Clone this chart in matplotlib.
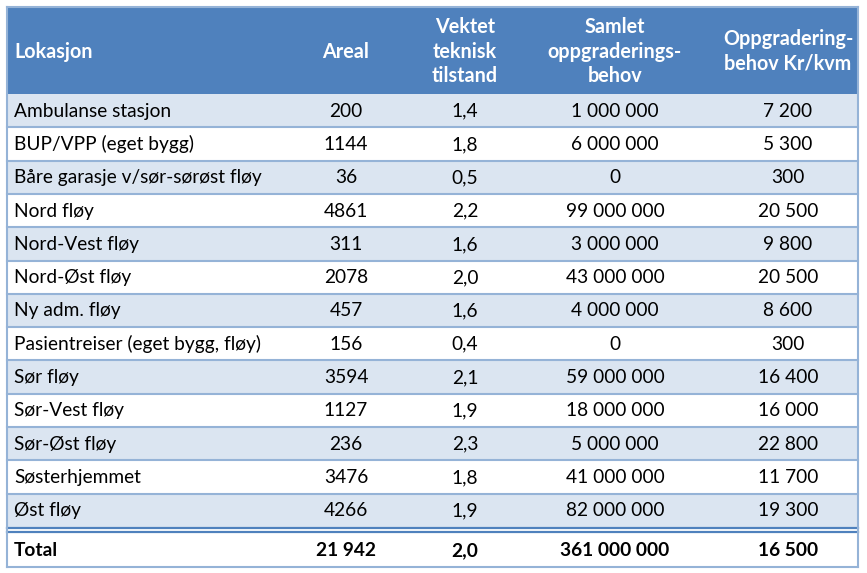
import matplotlib
matplotlib.use("Agg")
import matplotlib.pyplot as plt
from matplotlib.patches import Rectangle

headers = ["Lokasjon", "Areal", "Vektet\nteknisk\ntilstand", "Samlet\noppgraderings-\nbehov", "Oppgradering-\nbehov Kr/kvm"]
locations = ["Ambulanse stasjon", "BUP/VPP (eget bygg)", "Båre garasje v/sør-sørøst fløy", "Nord fløy",
             "Nord-Vest fløy", "Nord-Øst fløy", "Ny adm. fløy", "Pasientreiser (eget bygg, fløy)",
             "Sør fløy", "Sør-Vest fløy", "Sør-Øst fløy", "Søsterhjemmet", "Øst fløy"]
areal = ["200", "1144", "36", "4861", "311", "2078", "457", "156", "3594", "1127", "236", "3476", "4266"]
tilstand = ["1,4", "1,8", "0,5", "2,2", "1,6", "2,0", "1,6", "0,4", "2,1", "1,9", "2,3", "1,8", "1,9"]
behov = ["1 000 000", "6 000 000", "0", "99 000 000", "3 000 000", "43 000 000", "4 000 000", "0",
         "59 000 000", "18 000 000", "5 000 000", "41 000 000", "82 000 000"]
per_kvm = ["7 200", "5 300", "300", "20 500", "9 800", "20 500", "8 600", "300", "16 400", "16 000",
           "22 800", "11 700", "19 300"]
total = ["Total", "21 942", "2,0", "361 000 000", "16 500"]

W, H = 867, 573
fig = plt.figure(figsize=(W / 100, H / 100), dpi=100)
ax = fig.add_axes([0, 0, 1, 1])
ax.set_xlim(0, W)
ax.set_ylim(H, 0)
ax.axis("off")

FONT = ["Lato", "DejaVu Sans"]
FS = 13.8
HFS = 14.2
HEAD = "#4F81BD"
BAND = "#DBE5F1"
LINE = "#95B3D7"

x0, x1 = 7, 858
top, head_bot = 7, 94
row_h = (527 - head_bot) / len(locations)
col_cx = [14, 346, 465, 615, 788]

# header
ax.add_patch(Rectangle((x0, top), x1 - x0, head_bot - top, facecolor=HEAD, edgecolor="none"))
hy = (top + head_bot) / 2 + 1
for i, h in enumerate(headers):
    ax.text(col_cx[i], hy, h, ha="left" if i == 0 else "center", va="center", color="white",
            fontweight="bold", fontsize=HFS, family=FONT, linespacing=1.3)

# body rows
for r, name in enumerate(locations):
    y = head_bot + r * row_h
    ax.add_patch(Rectangle((x0, y), x1 - x0, row_h, facecolor=BAND if r % 2 == 0 else "white",
                           edgecolor="none"))
    if r > 0:
        ax.plot([x0, x1], [y, y], color=LINE, lw=1.5)
    cy = y + row_h / 2 + 0.5
    vals = [name, areal[r], tilstand[r], behov[r], per_kvm[r]]
    for i, v in enumerate(vals):
        ax.text(col_cx[i], cy, v, ha="left" if i == 0 else "center", va="center", color="black",
                fontsize=FS, family=FONT)

body_bot = head_bot + len(locations) * row_h
# double line
ax.plot([x0, x1], [body_bot + 1, body_bot + 1], color=HEAD, lw=1.6)
ax.plot([x0, x1], [body_bot + 5, body_bot + 5], color=HEAD, lw=1.6)
tot_top, tot_bot = body_bot + 6, 567
cy = (tot_top + tot_bot) / 2 + 0.5
for i, v in enumerate(total):
    ax.text(col_cx[i], cy, v, ha="left" if i == 0 else "center", va="center", color="black",
            fontweight="bold", fontsize=FS, family=FONT)

# outer border
ax.plot([x0, x0], [top, tot_bot], color=LINE, lw=1.5)
ax.plot([x1, x1], [top, tot_bot], color=LINE, lw=1.5)
ax.plot([x0, x1], [tot_bot, tot_bot], color=LINE, lw=1.5)
ax.plot([x0, x1], [top, top], color=LINE, lw=1.5)

fig.savefig("out.png", dpi=100, facecolor="white")
